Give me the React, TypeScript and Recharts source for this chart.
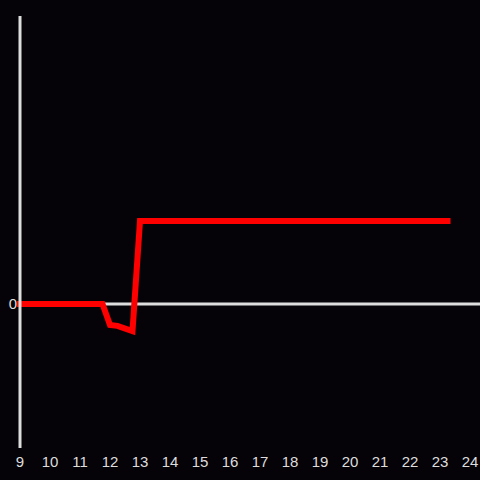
import { LineChart, Line, XAxis, YAxis, ReferenceLine } from 'recharts';

// ---------------------------------------------------------------------------
// Data
// ---------------------------------------------------------------------------

const hours = [9, 11.75, 12, 12.25, 12.75, 13, 23.25];
const values = [0, 0, -0.073, -0.076, -0.094, 0.288, 0.288];
const xTicks = [9, 10, 11, 12, 13, 14, 15, 16, 17, 18, 19, 20, 21, 22, 23, 24];
const yTicks = [0];

const chartData = hours.map((h, i) => ({ hour: h, value: values[i] }));

// ---------------------------------------------------------------------------
// Styles
// ---------------------------------------------------------------------------

const BG = '#050308';
const AXIS = '#dddddd';
const FONT = '"Liberation Sans", Arial, sans-serif';
const tickStyle = { fontSize: 15, fill: AXIS, fontFamily: FONT };

export default function App() {
  return (
    <div style={{ position: 'absolute', left: 0, top: 0, width: 480, height: 480, background: BG, fontFamily: FONT }}>
      <LineChart width={480} height={480} data={chartData} margin={{ top: 16, right: 0, bottom: 0, left: 0 }}>
        <XAxis
          type="number"
          dataKey="hour"
          domain={[9, 24 + 1 / 3]}
          ticks={xTicks}
          interval={0}
          height={32}
          axisLine={false}
          tickLine={false}
          tickSize={6}
          tickMargin={2}
          fontSize={15}
          tick={tickStyle}
        />
        <YAxis
          type="number"
          domain={[-0.5, 1]}
          ticks={yTicks}
          width={20}
          axisLine={{ stroke: AXIS, strokeWidth: 3 }}
          tickLine={false}
          tickSize={1}
          tickMargin={2}
          fontSize={15}
          tick={tickStyle}
        />
        <ReferenceLine y={0} stroke={AXIS} strokeWidth={3} />
        <Line
          type="linear"
          dataKey="value"
          stroke="#ff0000"
          strokeWidth={6}
          strokeLinecap="square"
          dot={false}
          isAnimationActive={false}
        />
      </LineChart>
    </div>
  );
}
